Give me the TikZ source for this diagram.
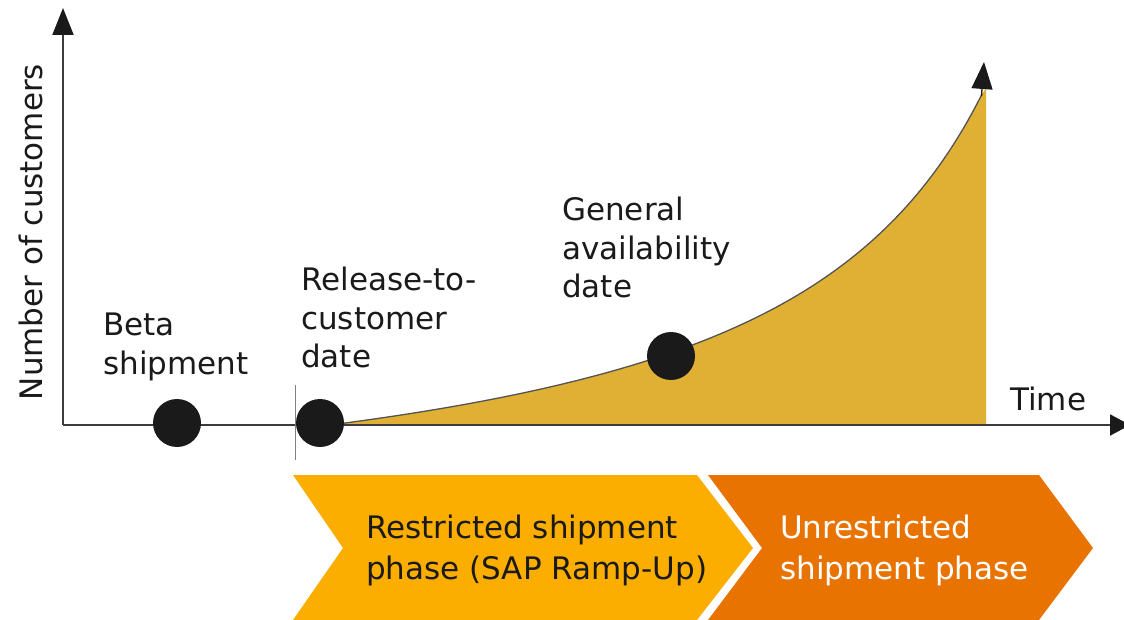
\documentclass[tikz,border=0pt]{standalone}
\usepackage{fontspec}
\setmainfont{DejaVu Sans}
\usetikzlibrary{arrows.meta}
\definecolor{gold}{HTML}{E0B034}
\definecolor{ramp}{HTML}{FBAE00}
\definecolor{open}{HTML}{E97300}
\definecolor{ink}{HTML}{1A1A1A}
\begin{document}
\begin{tikzpicture}[x=1pt,y=-1pt,
  axis/.style={line width=2pt, draw=ink!85},
  tip/.style={-{Triangle[length=27pt,width=21pt,color=ink]}},
  dot/.style={circle, fill=ink, minimum size=48pt, inner sep=0pt},
  lbl/.style={anchor=north west, inner sep=0pt, align=left,
              font=\fontsize{31}{38.5}\selectfont, text=ink},
  phase/.style={lbl, font=\fontsize{31}{41}\selectfont},
  declare function={adopt(\t)=538.18-990.3/((1205-\t)/100);}]
\useasboundingbox (0,0) rectangle (1124,620);

% phase chevrons
\fill[ramp] (293,475) -- (697,475) -- (753,548) -- (697,620) -- (293,620) -- (343,548) -- cycle;
\fill[open] (708,475) -- (1039,475) -- (1093,548) -- (1039,620) -- (708,620) -- (762,548) -- cycle;

% growth area under the adoption curve
\fill[gold] plot[domain=330:982, samples=150] (\x,{adopt(\x)})
  -- (986,88) -- (986,425) -- cycle;

% axes
\coordinate (O) at (63,425);
\coordinate (ytip) at (63,8);
\coordinate (xtip) at (1130,425);
\draw[axis,tip] (O) -- (ytip);
\draw[axis,-{Triangle[length=20pt,width=21pt,color=ink]}] (O) -- (xtip);

% release marker
\coordinate (m1) at (295,385);
\coordinate (m2) at (295,460);
\draw[gray, line width=0.8pt] (m1) -- (m2);

% adoption curve
\draw[line width=1.3pt, ink!75] plot[domain=330:982, samples=150] (\x,{adopt(\x)});
\coordinate (c1) at (981.5,96);
\coordinate (c2) at (984,62);
\draw[line width=1.3pt, ink, tip] (c1) -- (c2);

% milestones
\node[dot] (beta) at (177,423) {};
\node[dot] (rtc) at (320,423) {};
\node[dot] (ga) at (671,356) {};

% labels
\node[rotate=90, inner sep=0pt, font=\fontsize{31}{38}\selectfont, text=ink] (ylab) at (31,232) {Number of customers};
\node[lbl] (betaL) at (103,313) {Beta\\shipment};
\node[lbl] (rtcL) at (301,267) {Release-to-\\customer\\date};
\node[lbl] (gaL) at (562,197) {General\\availability\\date};
\node[lbl] (time) at (1010,387) {Time};
\node[phase] (p1) at (366,515) {Restricted shipment\\phase (SAP Ramp-Up)};
\node[phase, text=white] (p2) at (780,515) {Unrestricted\\shipment phase};
\end{tikzpicture}
\end{document}
